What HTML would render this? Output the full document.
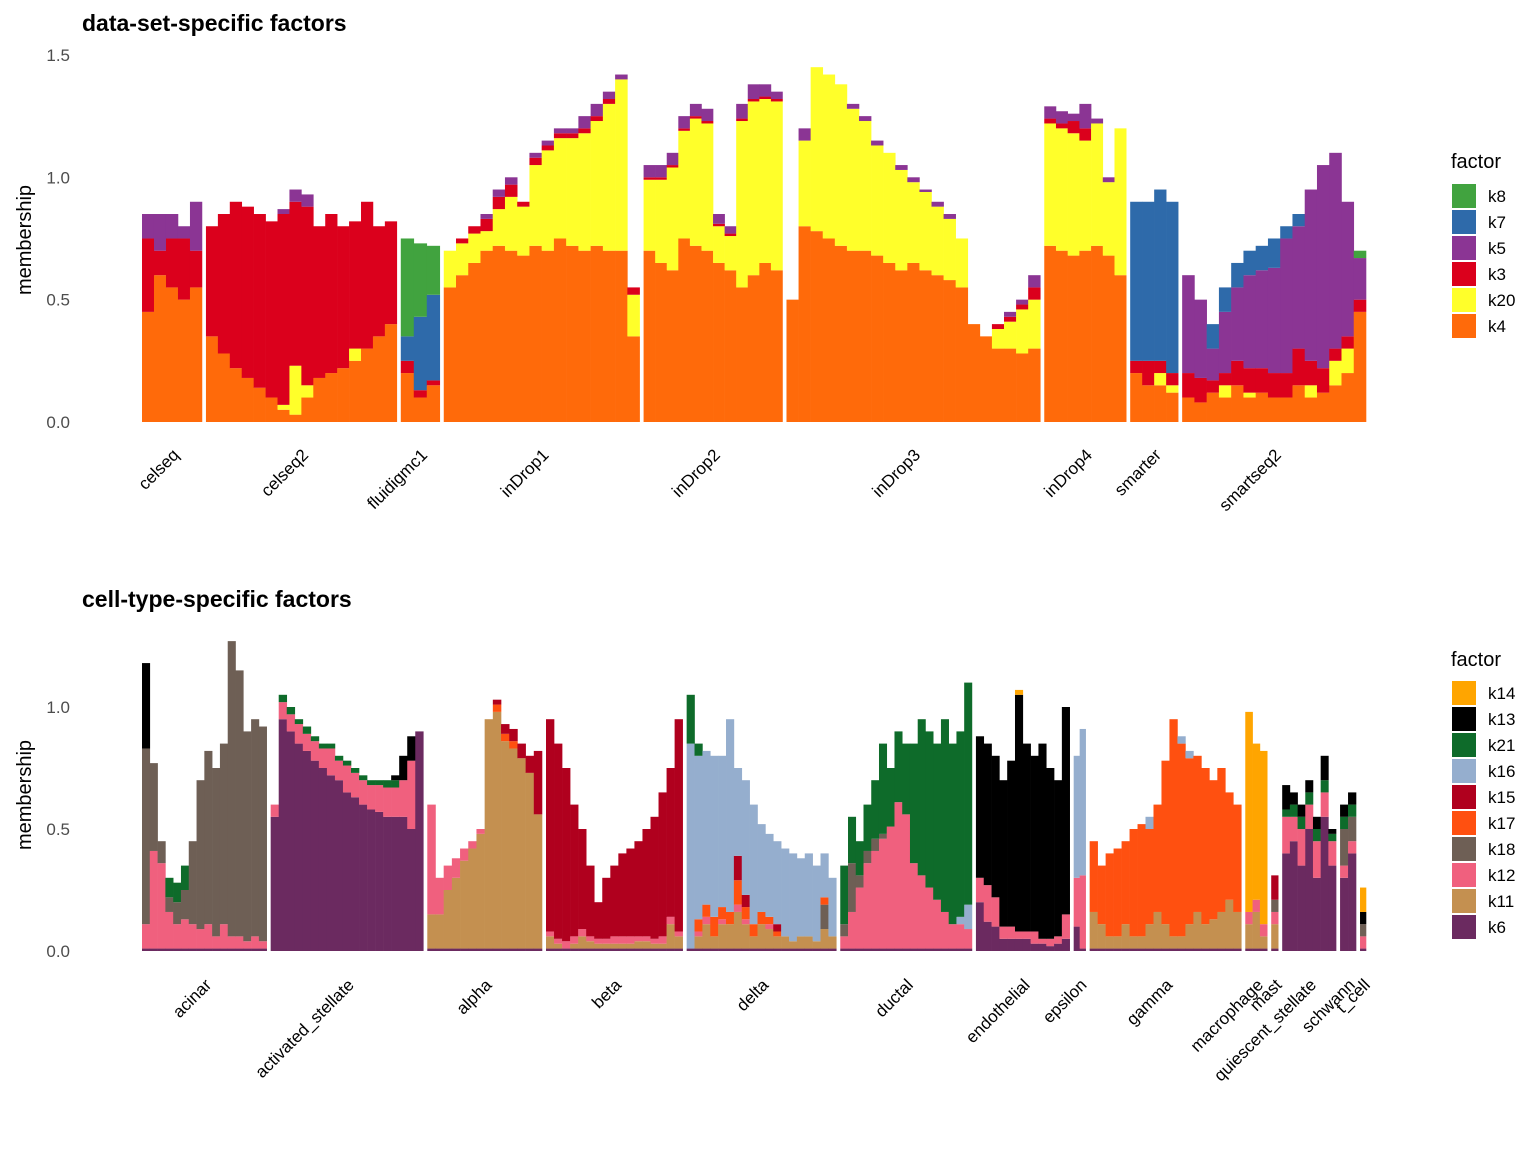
<!DOCTYPE html>
<html><head><meta charset="utf-8"><style>
body{margin:0;background:#fff;}
svg{display:block;font-family:"Liberation Sans",Arial,sans-serif;}
</style></head><body>
<svg id="chart" width="1536" height="1152" viewBox="0 0 1536 1152">
<text x="82" y="31" font-size="23" font-weight="bold" fill="#000">data-set-specific factors</text>
<text x="82" y="607" font-size="23" font-weight="bold" fill="#000">cell-type-specific factors</text>
<text transform="translate(31,240) rotate(-90)" text-anchor="middle" font-size="20" fill="#000">membership</text>
<text transform="translate(31,795) rotate(-90)" text-anchor="middle" font-size="20" fill="#000">membership</text>
<g id="top"></g>
<g id="bot"></g>
<g id="legTop"></g>
<g id="legBot"></g>
</svg>
<script>
// ---------- TOP PANEL DATA ----------
const topGroups = ["celseq","celseq2","fluidigmc1","inDrop1","inDrop2","inDrop3","inDrop4","smarter","smartseq2"];
const topCounts = [5,16,3,16,12,21,7,4,15];
const topSizes = [60,191,39,196,139,254,82,48,184];
const topFactors = ["k4","k20","k3","k5","k7","k8"];
const topColors = ["#FF6A0A","#FFFF2A","#DB001C","#8B3594","#2E6AAA","#41A33F"];
const topTicks = [0,0.5,1.0,1.5];
const tk4 = [0.45,0.6,0.55,0.5,0.55,
 0.35,0.28,0.22,0.18,0.14,0.1,0.05,0.03,0.1,0.18,0.2,0.22,0.25,0.3,0.35,0.4,
 0.2,0.1,0.15,
 0.55,0.6,0.65,0.7,0.72,0.7,0.68,0.72,0.7,0.75,0.72,0.7,0.72,0.7,0.7,0.35,
 0.7,0.65,0.62,0.75,0.72,0.7,0.65,0.62,0.55,0.6,0.65,0.62,
 0.5,0.8,0.78,0.75,0.72,0.7,0.7,0.68,0.65,0.62,0.65,0.62,0.6,0.58,0.55,0.4,0.35,0.3,0.3,0.28,0.3,
 0.72,0.7,0.68,0.7,0.72,0.68,0.6,
 0.2,0.15,0.15,0.12,
 0.1,0.08,0.12,0.1,0.15,0.1,0.12,0.1,0.1,0.15,0.1,0.12,0.15,0.2,0.45];
const tk20 = [0,0,0,0,0,
 0,0,0,0,0,0,0.02,0.2,0.05,0,0,0,0.05,0,0,0,
 0,0,0,
 0.15,0.13,0.12,0.08,0.15,0.22,0.2,0.33,0.41,0.41,0.44,0.48,0.51,0.6,0.7,0.17,
 0.29,0.34,0.42,0.44,0.52,0.52,0.15,0.14,0.68,0.71,0.67,0.69,
 0,0.35,0.67,0.67,0.66,0.58,0.53,0.45,0.45,0.41,0.33,0.32,0.28,0.25,0.2,0,0,0.08,0.11,0.18,0.2,
 0.5,0.5,0.5,0.45,0.5,0.3,0.6,
 0,0,0.05,0.03,
 0,0,0,0.05,0,0.02,0,0,0,0,0.05,0,0.1,0.1,0];
const tk3 = [0.3,0.1,0.2,0.25,0.15,
 0.45,0.57,0.68,0.7,0.71,0.72,0.78,0.67,0.73,0.62,0.65,0.58,0.52,0.6,0.45,0.42,
 0.05,0.03,0.02,
 0,0.02,0.03,0.05,0.05,0.05,0.02,0.03,0.02,0.02,0.02,0.02,0.02,0.02,0,0.03,
 0.01,0.01,0.01,0.01,0.01,0.01,0.01,0.01,0.01,0.01,0.01,0.01,
 0,0,0,0,0,0,0,0,0,0,0,0,0,0,0,0,0,0.02,0.02,0.02,0.05,
 0.02,0.02,0.05,0.05,0,0,0,
 0.05,0.1,0.05,0.05,
 0.1,0.1,0.05,0.05,0.1,0.1,0.1,0.1,0.1,0.15,0.1,0.1,0.05,0.05,0.05];
const tk5 = [0.1,0.15,0.1,0.05,0.2,
 0,0,0,0,0,0,0.02,0.05,0.05,0,0,0,0,0,0,0,
 0,0,0,
 0,0,0,0.02,0.03,0.03,0,0.02,0.02,0.02,0.02,0.05,0.05,0.03,0.02,0,
 0.05,0.05,0.05,0.05,0.05,0.05,0.04,0.03,0.06,0.06,0.05,0.03,
 0,0.05,0,0,0,0.02,0.02,0.02,0,0.02,0.02,0.01,0.02,0.02,0,0,0,0,0.02,0.02,0.05,
 0.05,0.05,0.03,0.1,0.02,0.02,0,
 0,0,0,0,
 0.4,0.32,0.13,0.25,0.3,0.38,0.4,0.43,0.55,0.5,0.7,0.83,0.8,0.55,0.17];
const tk7 = [0,0,0,0,0,
 0,0,0,0,0,0,0,0,0,0,0,0,0,0,0,0,
 0.1,0.3,0.35,
 0,0,0,0,0,0,0,0,0,0,0,0,0,0,0,0,
 0,0,0,0,0,0,0,0,0,0,0,0,
 0,0,0,0,0,0,0,0,0,0,0,0,0,0,0,0,0,0,0,0,0,
 0,0,0,0,0,0,0,
 0.65,0.65,0.7,0.7,
 0,0,0.1,0.1,0.1,0.1,0.1,0.12,0.05,0.05,0,0,0,0,0];
const tk8 = [0,0,0,0,0,
 0,0,0,0,0,0,0,0,0,0,0,0,0,0,0,0,
 0.4,0.3,0.2,
 0,0,0,0,0,0,0,0,0,0,0,0,0,0,0,0,
 0,0,0,0,0,0,0,0,0,0,0,0,
 0,0,0,0,0,0,0,0,0,0,0,0,0,0,0,0,0,0,0,0,0,
 0,0,0,0,0,0,0,
 0,0,0,0,
 0,0,0,0,0,0,0,0,0,0,0,0,0,0,0.03];

// ---------- BOTTOM PANEL DATA ----------
const botGroups = ["acinar","activated_stellate","alpha","beta","delta","ductal","endothelial","epsilon","gamma","macrophage","mast","quiescent_stellate","schwann","t_cell"];
const botCounts = [16,19,14,17,19,17,12,2,19,3,1,7,2,1];
const botSizes = [125,153,115,137,150,132,94,12,152,22,7,54,16,6];
const botFactors = ["k6","k11","k12","k18","k17","k15","k16","k21","k13","k14"];
const botColors = ["#6B2A60","#C49050","#F0607E","#6E5F55","#FF5010","#B0001E","#95AECE","#0E6B2A","#000000","#FFA500"];
const botTicks = [0,0.5,1.0];
const bk6 = [0.01,0.01,0.01,0.01,0.01,0.01,0.01,0.01,0.01,0.01,0.01,0.01,0.01,0.01,0.01,0.01,
 0.55,0.95,0.9,0.85,0.82,0.78,0.75,0.72,0.7,0.65,0.63,0.6,0.58,0.57,0.55,0.55,0.55,0.5,0.9,
 0.01,0.01,0.01,0.01,0.01,0.01,0.01,0.01,0.01,0.01,0.01,0.01,0.01,0.01,
 0.01,0.01,0.01,0.01,0.01,0.01,0.01,0.01,0.01,0.01,0.01,0.01,0.01,0.01,0.01,0.01,0.01,
 0.01,0.01,0.01,0.01,0.01,0.01,0.01,0.01,0.01,0.01,0.01,0.01,0.01,0.01,0.01,0.01,0.01,0.01,0.01,
 0.01,0.01,0.01,0.01,0.01,0.01,0.01,0.01,0.01,0.01,0.01,0.01,0.01,0.01,0.01,0.01,0.01,
 0.2,0.12,0.1,0.05,0.05,0.05,0.05,0.03,0.03,0.02,0.03,0.05,
 0.1,0.01,
 0.01,0.01,0.01,0.01,0.01,0.01,0.01,0.01,0.01,0.01,0.01,0.01,0.01,0.01,0.01,0.01,0.01,0.01,0.01,
 0.01,0.01,0.01,
 0.01,
 0.4,0.45,0.35,0.5,0.3,0.55,0.35,
 0.3,0.4,
 0.01];
const bk11 = [0,0,0,0,0,0,0,0,0,0,0,0,0,0,0,0,
 0,0,0,0,0,0,0,0,0,0,0,0,0,0,0,0,0,0,0,
 0.14,0.14,0.24,0.29,0.36,0.41,0.47,0.94,0.97,0.85,0.82,0.78,0.72,0.55,
 0.05,0.02,0,0.02,0.05,0.03,0.02,0.02,0.02,0.02,0.02,0.03,0.03,0.02,0.02,0.1,0.05,
 0,0.05,0.1,0.05,0.1,0.1,0.15,0.1,0.05,0.1,0.08,0.05,0.05,0.03,0.05,0.05,0.03,0.08,0.05,
 0,0,0,0,0,0,0,0,0,0,0,0,0,0,0,0,0,
 0,0,0,0,0,0,0,0,0,0,0,0,
 0,0,
 0.15,0.1,0.05,0.05,0.1,0.05,0.05,0.1,0.15,0.1,0.05,0.05,0.1,0.15,0.1,0.12,0.15,0.2,0.15,
 0.1,0.15,0.05,
 0.1,
 0,0,0,0,0,0,0,
 0,0,
 0];
const bk12 = [0.1,0.4,0.35,0.15,0.1,0.12,0.1,0.08,0.1,0.05,0.1,0.05,0.05,0.03,0.05,0.03,
 0.05,0.07,0.07,0.08,0.07,0.08,0.08,0.11,0.08,0.11,0.1,0.1,0.1,0.11,0.12,0.12,0.15,0.28,0,
 0.45,0.15,0.1,0.08,0.05,0.03,0.02,0,0,0,0,0,0,0,
 0.02,0.02,0.03,0.03,0.03,0.02,0.02,0.02,0.03,0.03,0.03,0.02,0.02,0.02,0.03,0.03,0.02,
 0,0.02,0.03,0,0.02,0,0.03,0.02,0,0,0.02,0,0,0,0,0,0,0,0,
 0.05,0.15,0.25,0.35,0.4,0.45,0.5,0.6,0.55,0.35,0.3,0.25,0.2,0.15,0.1,0.1,0.08,
 0.1,0.15,0.12,0.05,0.05,0.03,0.03,0.05,0.02,0.03,0.03,0.1,
 0.2,0.3,
 0,0,0,0,0,0,0,0,0,0,0,0,0,0,0,0,0,0,0,
 0.05,0.05,0.05,
 0.05,
 0.15,0.1,0.15,0.1,0.15,0.1,0.1,
 0.05,0.05,
 0.05];
const bk18 = [0.72,0.36,0.09,0.06,0.09,0.12,0.34,0.61,0.71,0.69,0.74,1.21,1.09,0.86,0.89,0.88,
 0,0,0,0,0,0,0,0,0,0,0,0,0,0,0,0,0,0,0,
 0,0,0,0,0,0,0,0,0,0,0,0,0,0,
 0,0,0,0,0,0,0,0,0,0,0,0,0,0,0,0,0,
 0,0,0,0,0,0,0,0,0,0,0,0,0,0,0,0,0,0.1,0,
 0.05,0.2,0.05,0.05,0.05,0.02,0,0,0,0,0,0,0,0,0,0,0,
 0,0,0,0,0,0,0,0,0,0,0,0,
 0,0,
 0,0,0,0,0,0,0,0,0,0,0,0,0,0,0,0,0,0,0,
 0,0,0,
 0.05,
 0,0,0,0,0,0,0,
 0.15,0.1,
 0.05];
const bk17 = [0,0,0,0,0,0,0,0,0,0,0,0,0,0,0,0,
 0,0,0,0,0,0,0,0,0,0,0,0,0,0,0,0,0,0,0,
 0,0,0,0,0,0,0,0,0.03,0.03,0.03,0,0,0,
 0,0,0,0,0,0,0,0,0,0,0,0,0,0,0,0,0,
 0,0.05,0.05,0.08,0.05,0.05,0.1,0.05,0.05,0.05,0.03,0.02,0,0,0,0,0,0.03,0,
 0,0,0,0,0,0,0,0,0,0,0,0,0,0,0,0,0,
 0,0,0,0,0,0,0,0,0,0,0,0,
 0,0,
 0.29,0.24,0.34,0.36,0.34,0.44,0.46,0.39,0.44,0.67,0.89,0.79,0.68,0.64,0.64,0.57,0.59,0.44,0.44,
 0,0,0,
 0,
 0,0,0,0,0,0,0,
 0,0,
 0];
const bk15 = [0,0,0,0,0,0,0,0,0,0,0,0,0,0,0,0,
 0,0,0,0,0,0,0,0,0,0,0,0,0,0,0,0,0,0,0,
 0,0,0,0,0,0,0,0,0.02,0.04,0.05,0.06,0.07,0.26,
 0.87,0.8,0.71,0.54,0.41,0.29,0.15,0.25,0.29,0.34,0.36,0.39,0.44,0.5,0.59,0.61,0.87,
 0,0,0,0,0,0,0.1,0.05,0,0,0,0.03,0,0,0,0,0,0,0,
 0,0,0,0,0,0,0,0,0,0,0,0,0,0,0,0,0,
 0,0,0,0,0,0,0,0,0,0,0,0,
 0,0,
 0,0,0,0,0,0,0,0,0,0,0,0,0,0,0,0,0,0,0,
 0,0,0,
 0.1,
 0,0,0,0,0,0,0,
 0,0,
 0];
const bk16 = [0,0,0,0,0,0,0,0,0,0,0,0,0,0,0,0,
 0,0,0,0,0,0,0,0,0,0,0,0,0,0,0,0,0,0,0,
 0,0,0,0,0,0,0,0,0,0,0,0,0,0,
 0,0,0,0,0,0,0,0,0,0,0,0,0,0,0,0,0,
 0.84,0.67,0.63,0.66,0.62,0.79,0.36,0.47,0.49,0.36,0.34,0.34,0.36,0.36,0.32,0.34,0.31,0.18,0.24,
 0,0,0,0,0,0,0,0,0,0,0,0,0,0,0,0.03,0.1,
 0,0,0,0,0,0,0,0,0,0,0,0,
 0.5,0.6,
 0,0,0,0,0,0,0,0.05,0,0,0,0.03,0.03,0,0,0,0,0,0,
 0,0,0,
 0,
 0,0,0,0,0,0,0,
 0,0,
 0];
const bk21 = [0,0,0,0.08,0.08,0.1,0,0,0,0,0,0,0,0,0,0,
 0,0.03,0.03,0.02,0.03,0.02,0.02,0.02,0.02,0.02,0.02,0.02,0.02,0.02,0.03,0.03,0,0,0,
 0,0,0,0,0,0,0,0,0,0,0,0,0,0,
 0,0,0,0,0,0,0,0,0,0,0,0,0,0,0,0,0,
 0.2,0.05,0,0,0,0,0,0,0,0,0,0,0,0,0,0,0,0,0,
 0.24,0.19,0.14,0.19,0.24,0.37,0.24,0.29,0.29,0.49,0.64,0.64,0.64,0.79,0.74,0.76,0.91,
 0,0,0,0,0,0,0,0,0,0,0,0,
 0,0,
 0,0,0,0,0,0,0,0,0,0,0,0,0,0,0,0,0,0,0,
 0,0,0,
 0,
 0.03,0.05,0.05,0.05,0.05,0.05,0.03,
 0.05,0.05,
 0];
const bk13 = [0.35,0,0,0,0,0,0,0,0,0,0,0,0,0,0,0,
 0,0,0,0,0,0,0,0,0,0,0,0,0,0,0,0.02,0.1,0.1,0,
 0,0,0,0,0,0,0,0,0,0,0,0,0,0,
 0,0,0,0,0,0,0,0,0,0,0,0,0,0,0,0,0,
 0,0,0,0,0,0,0,0,0,0,0,0,0,0,0,0,0,0,0,
 0,0,0,0,0,0,0,0,0,0,0,0,0,0,0,0,0,
 0.58,0.58,0.58,0.6,0.68,0.97,0.77,0.72,0.8,0.7,0.64,0.85,
 0,0,
 0,0,0,0,0,0,0,0,0,0,0,0,0,0,0,0,0,0,0,
 0,0,0,
 0,
 0.1,0.05,0.05,0.05,0.05,0.1,0.02,
 0.05,0.05,
 0.05];
const bk14 = [0,0,0,0,0,0,0,0,0,0,0,0,0,0,0,0,
 0,0,0,0,0,0,0,0,0,0,0,0,0,0,0,0,0,0,0,
 0,0,0,0,0,0,0,0,0,0,0,0,0,0,
 0,0,0,0,0,0,0,0,0,0,0,0,0,0,0,0,0,
 0,0,0,0,0,0,0,0,0,0,0,0,0,0,0,0,0,0,0,
 0,0,0,0,0,0,0,0,0,0,0,0,0,0,0,0,0,
 0,0,0,0,0,0.02,0,0,0,0,0,0,
 0,0,
 0,0,0,0,0,0,0,0,0,0,0,0,0,0,0,0,0,0,0,
 0.82,0.64,0.71,
 0,
 0,0,0,0,0,0,0,
 0,0,
 0.1];

const NS = "http://www.w3.org/2000/svg";
function mk(tag, attrs, parent){
  const e = document.createElementNS(NS, tag);
  for (const k in attrs) e.setAttribute(k, attrs[k]);
  parent.appendChild(e);
  return e;
}

function drawPanel(g, groups, counts, sizes, series, colors, factors, ticks, y0, pxPerUnit, labelY, prefix){
  const x0 = 142, x1 = 1366, gap = 4;
  const totalSize = sizes.reduce((a,b)=>a+b,0);
  const avail = x1 - x0 - gap*(groups.length-1);
  const yScale = v => y0 - v*pxPerUnit;
  ticks.forEach(t=>{
    const tl = mk("text",{x:70,y:yScale(t)+6,"text-anchor":"end","font-size":17,fill:"#4d4d4d"},g);
    tl.textContent = t.toFixed(1);
    
    
  });
  let idx = 0, x = x0;
  groups.forEach((gname, gi)=>{
    const startX = x;
    const gw = avail * sizes[gi] / totalSize;
    const bw = gw / counts[gi];
    for (let j=0;j<counts[gi];j++){
      let acc = 0;
      series.forEach((arr, si)=>{
        const v = arr[idx] || 0;
        if (v <= 0) return;
        const r = mk("rect",{x:x.toFixed(2),y:yScale(acc+v).toFixed(2),width:(bw+0.3).toFixed(2),height:(v*pxPerUnit).toFixed(2),fill:colors[si]},g);
        
        
        acc += v;
      });
      idx++; x += bw;
    }
    const cx = (startX + x)/2;
    const lab = mk("text",{transform:`translate(${cx+8},${labelY}) rotate(-45)`,"text-anchor":"end","font-size":17,fill:"#000"},g);
    lab.textContent = gname;
    
    
    x += gap;
  });
}

drawPanel(document.getElementById("top"), topGroups, topCounts, topSizes, [tk4,tk20,tk3,tk5,tk7,tk8], topColors, topFactors, topTicks, 422, 244.7, 456, "top");
drawPanel(document.getElementById("bot"), botGroups, botCounts, botSizes, [bk6,bk11,bk12,bk18,bk17,bk15,bk16,bk21,bk13,bk14], botColors, botFactors, botTicks, 951, 244, 986, "bottom");

function legend(g, titleY, factors, colors, keyY0){
  const t = mk("text",{x:1451,y:titleY,"font-size":20,fill:"#000"},g);
  t.textContent = "factor";
  
  
  const order = factors.slice().reverse();
  const cols = colors.slice().reverse();
  order.forEach((f,i)=>{
    const y = keyY0 + i*26;
    const r = mk("rect",{x:1452,y:y,width:24,height:24,fill:cols[i]},g);
    
    
    const l = mk("text",{x:1488,y:y+18,"font-size":17,fill:"#000"},g);
    l.textContent = f;
    
    
  });
}
legend(document.getElementById("legTop"), 168, topFactors, topColors, 184);
legend(document.getElementById("legBot"), 666, botFactors, botColors, 681);
</script>
</body></html>
